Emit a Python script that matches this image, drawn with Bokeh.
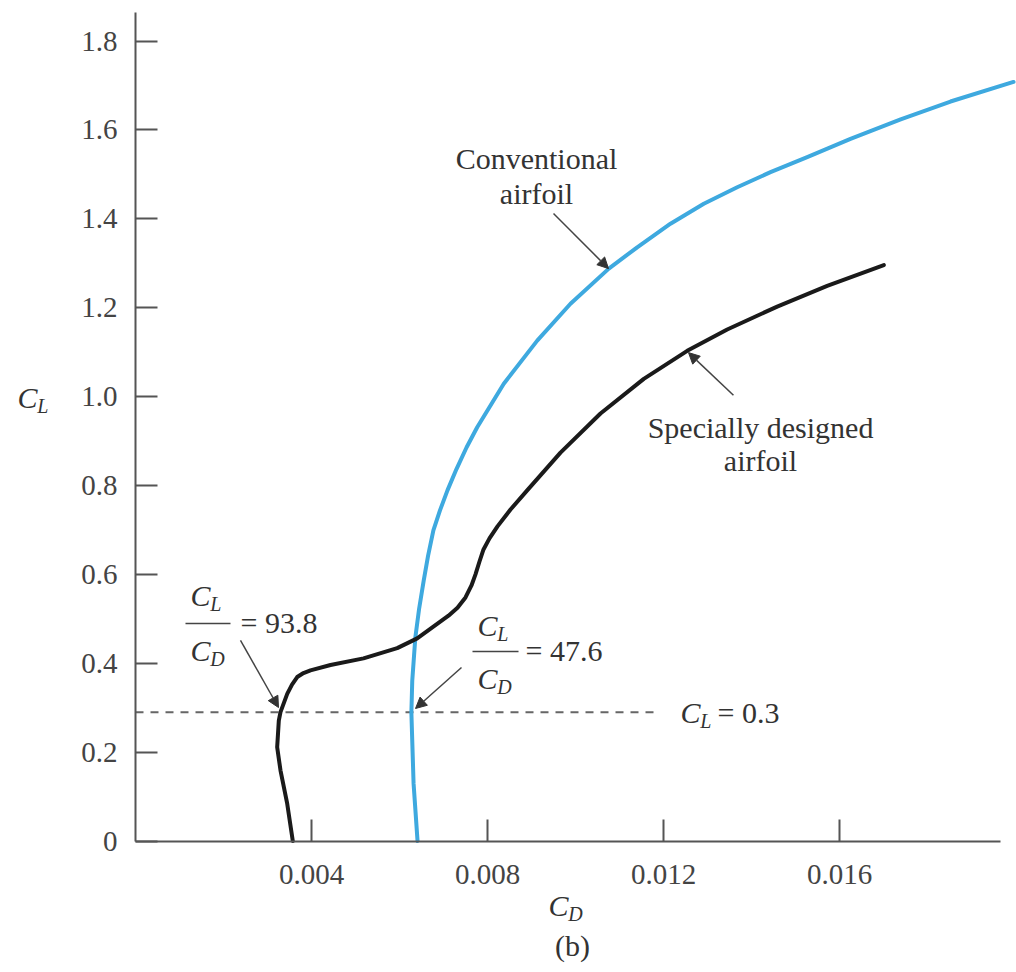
from bokeh.plotting import figure
from bokeh.models import Range1d, FixedTicker, Label, Arrow, NormalHead
from bokeh.embed import file_html
from bokeh.resources import INLINE

# ---- data ----
conv_cd = [0.00641, 0.00632, 0.00627, 0.00629, 0.00636, 0.006445, 0.00655, 0.00665,
           0.00677, 0.00692, 0.00709, 0.007295, 0.007523, 0.007766, 0.00837, 0.00913,
           0.009886, 0.010757, 0.011402, 0.012159, 0.012916, 0.013675, 0.014432,
           0.015266, 0.01625, 0.01739, 0.018523, 0.019955]
conv_cl = [0.000, 0.129, 0.289, 0.361, 0.458, 0.522, 0.586, 0.642,
           0.699, 0.744, 0.789, 0.837, 0.8855, 0.931, 1.029, 1.126,
           1.209, 1.288, 1.336, 1.389, 1.434, 1.471, 1.505,
           1.539, 1.580, 1.624, 1.664, 1.708]

spec_cd = [0.003575, 0.003448, 0.003295, 0.003220, 0.003257, 0.003295, 0.003448, 0.003557,
           0.003675, 0.003818, 0.003977, 0.004432, 0.005182, 0.005948, 0.006402, 0.006864,
           0.007114, 0.007318, 0.007500, 0.007636, 0.007727, 0.007818, 0.007909, 0.008045,
           0.008227, 0.008523, 0.008902, 0.009659, 0.010568, 0.011552, 0.012539, 0.013448,
           0.014584, 0.015720, 0.017007]
spec_cl = [0.000, 0.084, 0.159, 0.211, 0.271, 0.290, 0.331, 0.352,
           0.369, 0.378, 0.384, 0.396, 0.411, 0.434, 0.456, 0.489,
           0.507, 0.525, 0.548, 0.575, 0.600, 0.629, 0.656, 0.681,
           0.708, 0.746, 0.789, 0.874, 0.962, 1.040, 1.103, 1.151,
           1.2025, 1.249, 1.296]

ref_cl = 0.29
ref_cd = [0.0, 0.01193]

x_ticks = [0.004, 0.008, 0.012, 0.016]
x_tick_labels = ["0.004", "0.008", "0.012", "0.016"]
y_ticks = [0.0, 0.2, 0.4, 0.6, 0.8, 1.0, 1.2, 1.4, 1.6, 1.8]
y_tick_labels = ["0", "0.2", "0.4", "0.6", "0.8", "1.0", "1.2", "1.4", "1.6", "1.8"]

FONT = "Liberation Serif"
TXT = "#333333"
AX = "#555555"

p = figure(width=1016, height=972,
           x_range=Range1d(-0.0030682, 0.0200227), y_range=Range1d(-0.29590, 1.89131),
           output_backend="svg", toolbar_location=None,
           min_border_left=0, min_border_right=0, min_border_top=0, min_border_bottom=0)
p.outline_line_color = None
p.xgrid.visible = False
p.ygrid.visible = False
p.background_fill_color = "white"
p.border_fill_color = "white"

for ax in (p.xaxis[0], p.yaxis[0]):
    ax.fixed_location = 0
    ax.axis_line_color = AX
    ax.axis_line_width = 2
    ax.major_tick_line_color = AX
    ax.major_tick_line_width = 2
    ax.major_tick_in = 22
    ax.major_tick_out = 0
    ax.minor_tick_line_color = None
    ax.major_label_text_font = FONT
    ax.major_label_text_font_size = "29px"
    ax.major_label_text_color = "#444444"

p.xaxis[0].major_label_standoff = 24
p.yaxis[0].major_label_standoff = 18
p.xaxis[0].ticker = FixedTicker(ticks=x_ticks)
p.xaxis[0].major_label_overrides = {t: l for t, l in zip(x_ticks, x_tick_labels)}
p.xaxis[0].bounds = (0, 0.01966)
p.yaxis[0].ticker = FixedTicker(ticks=y_ticks)
p.yaxis[0].major_label_overrides = {t: l for t, l in zip(y_ticks, y_tick_labels)}
p.yaxis[0].bounds = (0, 1.8654)

# reference line
p.line(ref_cd, [ref_cl, ref_cl], line_color="#666666", line_width=2, line_dash="8 7")

# curves
p.line(conv_cd, conv_cl, line_color="#3ea9df", line_width=4, line_join="round", line_cap="round")
p.line(spec_cd, spec_cl, line_color="#1a1a1a", line_width=4, line_join="round", line_cap="round")


def lab(x, y, t, size="30px", style="normal", align="left"):
    p.add_layout(Label(x=x, y=y, text=t, text_font=FONT, text_font_size=size,
                       text_font_style=style, text_color=TXT, text_align=align,
                       text_baseline="middle"))


def sym(x, y, sub):
    # italic C with italic subscript
    lab(x, y, "C", style="italic")
    lab(x + 0.00045, y - 0.019, sub, size="20px", style="italic")


def arrow(x0, y0, x1, y1, head=True):
    p.add_layout(Arrow(x_start=x0, y_start=y0, x_end=x1, y_end=y1,
                       line_color="#444444", line_width=1.5,
                       end=NormalHead(size=11, fill_color="#333333", line_color="#333333") if head else None))


# curve labels
lab(0.009114, 1.5358, "Conventional", align="center")
lab(0.009114, 1.457, "airfoil", align="center")
arrow(0.0095, 1.412, 0.01075, 1.288)

lab(0.014205, 0.9305, "Specially designed", align="center")
lab(0.014205, 0.856, "airfoil", align="center")
arrow(0.01359, 1.003, 0.012568, 1.099)

# CL/CD = 93.8
sym(0.00125, 0.5524, "L")
arrow(0.001136, 0.4894, 0.002159, 0.4894, head=False)
sym(0.00125, 0.4287, "D")
lab(0.002386, 0.4917, "= 93.8")
arrow(0.002386, 0.4512, 0.00325, 0.3004)

# CL/CD = 47.6
sym(0.0077727, 0.4849, "L")
arrow(0.007659, 0.4264, 0.008705, 0.4264, head=False)
sym(0.0077727, 0.3657, "D")
lab(0.008864, 0.4286, "= 47.6")
arrow(0.007409, 0.3904, 0.006364, 0.2982)

# CL = 0.3
sym(0.012386, 0.2892, "L")
lab(0.013227, 0.2892, "= 0.3")

# axis titles
sym(-0.002682, 0.998, "L")
sym(0.009386, -0.1451, "D")
lab(0.009932, -0.2351, "(b)", align="center")

open("out.html", "w").write(file_html(p, INLINE))
